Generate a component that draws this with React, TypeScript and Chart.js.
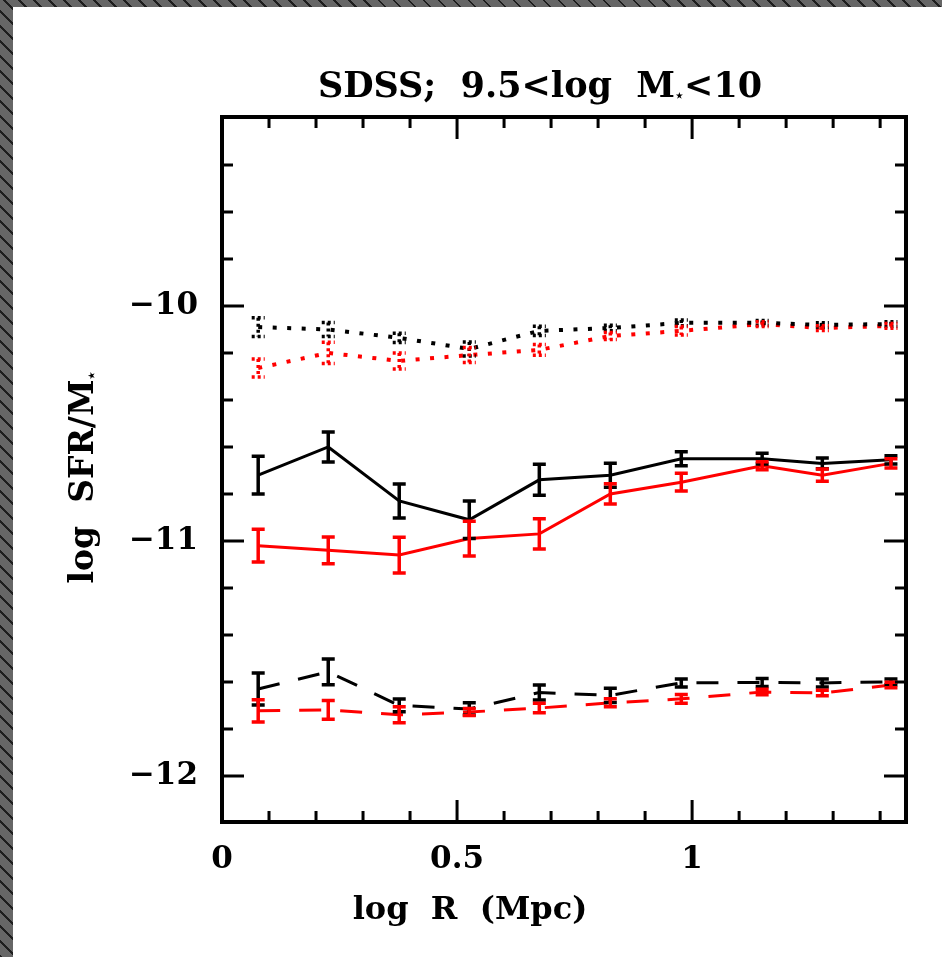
import React, { useEffect, useRef } from "react";
import { Chart, registerables } from "chart.js";

Chart.register(...registerables);

// ---- data ----
const xBins = [0.077, 0.226, 0.377, 0.526, 0.675, 0.826, 0.977, 1.149, 1.277, 1.423];

const blackSolid = [-10.72, -10.6, -10.83, -10.91, -10.74, -10.72, -10.65, -10.65, -10.67, -10.655];
const blackSolidErr = [0.08, 0.064, 0.072, 0.08, 0.066, 0.051, 0.03, 0.023, 0.023, 0.018];
const redSolid = [-11.02, -11.04, -11.06, -10.99, -10.97, -10.8, -10.75, -10.68, -10.72, -10.67];
const redSolidErr = [0.07, 0.057, 0.076, 0.074, 0.064, 0.043, 0.038, 0.017, 0.026, 0.02];

const blackDot = [-10.09, -10.1, -10.136, -10.183, -10.106, -10.094, -10.072, -10.072, -10.081, -10.077];
const blackDotErr = [0.04, 0.03, 0.02, 0.03, 0.02, 0.012, 0.012, 0.01, 0.01, 0.01];
const redDot = [-10.264, -10.2, -10.234, -10.209, -10.187, -10.128, -10.106, -10.077, -10.094, -10.085];
const redDotErr = [0.038, 0.045, 0.034, 0.032, 0.023, 0.015, 0.018, 0.01, 0.01, 0.01];

const blackDash = [-11.63, -11.557, -11.7, -11.715, -11.645, -11.657, -11.604, -11.602, -11.604, -11.6];
const blackDashErr = [0.068, 0.055, 0.027, 0.026, 0.032, 0.03, 0.017, 0.017, 0.017, 0.012];
const redDash = [-11.723, -11.719, -11.74, -11.728, -11.711, -11.689, -11.672, -11.643, -11.647, -11.613];
const redDashErr = [0.047, 0.04, 0.034, 0.015, 0.02, 0.017, 0.019, 0.012, 0.012, 0.012];

const xMajorTicks = [0, 0.5, 1];
const xMinorTicks = [0.1, 0.2, 0.3, 0.4, 0.6, 0.7, 0.8, 0.9, 1.1, 1.2, 1.3, 1.4];
const yMajorTicks = [-12, -11, -10];
const yMinorTicks = [-11.8, -11.6, -11.4, -11.2, -10.8, -10.6, -10.4, -10.2, -9.8, -9.6, -9.4];

const titleText = ["SDSS;  9.5<log  M", "\u22C6", "<10"];
const yTitleText = ["log  SFR/M", "\u22C6"];
const xTitleText = "log  R  (Mpc)";

const FONT = '"DejaVu Serif", serif';
const RED = "#ff0000";
const BLACK = "#000000";

export default function App() {
  const ref = useRef<HTMLCanvasElement>(null);

  useEffect(() => {
    document.body.style.margin = "0";
    const canvas = ref.current!;

    const mk = (ys: number[], errs: number[], color: string, style: string) => ({
      data: xBins.map((x, i) => ({ x, y: ys[i] })),
      borderColor: color,
      backgroundColor: color,
      borderWidth: style === "dot" ? 4 : 3,
      borderDash: style === "dot" ? [4, 10.5] : style === "dash" ? [22, 19] : [],
      borderCapStyle: "butt",
      pointRadius: 0,
      fill: false,
      tension: 0,
      errs,
      lstyle: style,
    });

    const deco = {
      id: "deco",
      afterDatasetsDraw(chart: any) {
        const { ctx, chartArea: a, scales } = chart;
        const xs = scales.x;
        const ys = scales.y;
        ctx.save();
        // error bars
        chart.data.datasets.forEach((ds: any) => {
          ctx.strokeStyle = ds.borderColor;
          ctx.lineWidth = 3.5;
          ctx.setLineDash(ds.lstyle === "dot" ? [3, 3] : []);
          ds.data.forEach((p: any, i: number) => {
            const e = ds.errs[i];
            const px = xs.getPixelForValue(p.x);
            const y1 = ys.getPixelForValue(p.y + e);
            const y2 = ys.getPixelForValue(p.y - e);
            ctx.beginPath();
            ctx.moveTo(px, y1);
            ctx.lineTo(px, y2);
            ctx.moveTo(px - 6.5, y1);
            ctx.lineTo(px + 6.5, y1);
            ctx.moveTo(px - 6.5, y2);
            ctx.lineTo(px + 6.5, y2);
            ctx.stroke();
          });
        });
        ctx.setLineDash([]);
        // frame
        ctx.strokeStyle = BLACK;
        ctx.lineWidth = 4;
        ctx.strokeRect(a.left, a.top, a.right - a.left, a.bottom - a.top);
        // ticks
        ctx.lineWidth = 3;
        const tickX = (v: number, len: number) => {
          const px = xs.getPixelForValue(v);
          ctx.beginPath();
          ctx.moveTo(px, a.bottom);
          ctx.lineTo(px, a.bottom - len);
          ctx.moveTo(px, a.top);
          ctx.lineTo(px, a.top + len);
          ctx.stroke();
        };
        const tickY = (v: number, len: number) => {
          const py = ys.getPixelForValue(v);
          ctx.beginPath();
          ctx.moveTo(a.left, py);
          ctx.lineTo(a.left + len, py);
          ctx.moveTo(a.right, py);
          ctx.lineTo(a.right - len, py);
          ctx.stroke();
        };
        xMajorTicks.forEach((v) => tickX(v, 22));
        xMinorTicks.forEach((v) => tickX(v, 11));
        yMajorTicks.forEach((v) => tickY(v, 22));
        yMinorTicks.forEach((v) => tickY(v, 11));

        // title
        ctx.fillStyle = BLACK;
        ctx.textBaseline = "alphabetic";
        ctx.textAlign = "left";
        const big = `bold 35px ${FONT}`;
        const mid = `bold 33px ${FONT}`;
        const small = `bold 14px ${FONT}`;
        ctx.font = big;
        const w0 = ctx.measureText(titleText[0]).width;
        const w2 = ctx.measureText(titleText[2]).width;
        ctx.font = small;
        const w1 = ctx.measureText(titleText[1]).width;
        const total = w0 + w1 + w2;
        let tx = 527 - total / 2;
        const ty = 90;
        ctx.font = big;
        ctx.fillText(titleText[0], tx, ty);
        tx += w0;
        ctx.font = small;
        ctx.fillText(titleText[1], tx, ty + 3);
        tx += w1;
        ctx.font = big;
        ctx.fillText(titleText[2], tx, ty);

        // y title
        ctx.save();
        ctx.translate(80, 470);
        ctx.rotate(-Math.PI / 2);
        ctx.font = mid;
        const yw0 = ctx.measureText(yTitleText[0]).width;
        ctx.font = small;
        const yw1 = ctx.measureText(yTitleText[1]).width;
        let yx = -(yw0 + yw1) / 2;
        ctx.font = mid;
        ctx.fillText(yTitleText[0], yx, 0);
        yx += yw0;
        ctx.font = small;
        ctx.fillText(yTitleText[1], yx, 3);
        ctx.restore();

        // x title
        ctx.font = `bold 32px ${FONT}`;
        ctx.textAlign = "center";
        ctx.fillText(xTitleText, 457, 912);
        ctx.restore();
      },
    };

    const chart = new Chart(canvas, {
      type: "line",
      data: {
        datasets: [
          mk(blackDot, blackDotErr, BLACK, "dot"),
          mk(redDot, redDotErr, RED, "dot"),
          mk(blackSolid, blackSolidErr, BLACK, "solid"),
          mk(redSolid, redSolidErr, RED, "solid"),
          mk(blackDash, blackDashErr, BLACK, "dash"),
          mk(redDash, redDashErr, RED, "dash"),
        ] as any,
      },
      options: {
        animation: false,
        responsive: false,
        devicePixelRatio: 1,
        layout: { padding: { left: 0, top: 110, right: 36, bottom: 0 } },
        plugins: { legend: { display: false }, tooltip: { enabled: false }, title: { display: false } },
        scales: {
          x: {
            type: "linear",
            min: 0,
            max: 1.455,
            grid: { display: false },
            border: { display: false },
            afterBuildTicks: (s: any) => {
              s.ticks = xMajorTicks.map((v) => ({ value: v }));
            },
            afterFit: (s: any) => {
              s.height = 135;
            },
            ticks: {
              color: BLACK,
              padding: 11,
              maxRotation: 0,
              font: { family: FONT, size: 31, weight: "bold" },
              callback: (v: any) => String(v),
            },
          },
          y: {
            type: "linear",
            min: -12.196,
            max: -9.196,
            grid: { display: false },
            border: { display: false },
            afterBuildTicks: (s: any) => {
              s.ticks = yMajorTicks.map((v) => ({ value: v }));
            },
            afterFit: (s: any) => {
              s.width = 209;
            },
            ticks: {
              color: BLACK,
              padding: 16,
              font: { family: FONT, size: 31, weight: "bold" },
              callback: (v: any) => "\u2212" + Math.abs(Number(v)),
            },
          },
        },
      } as any,
      plugins: [deco],
    });
    return () => chart.destroy();
  }, []);

  return (
    <div
      style={{
        position: "absolute",
        left: 0,
        top: 0,
        width: 942,
        height: 957,
        background: "repeating-linear-gradient(45deg, #1e1e1e 0px, #1e1e1e 2px, #666666 2px, #666666 10.6px)",
      }}
    >
      <canvas
        ref={ref}
        width={929}
        height={950}
        style={{ position: "absolute", left: 13, top: 7, width: 929, height: 950, background: "#ffffff" }}
      />
    </div>
  );
}
